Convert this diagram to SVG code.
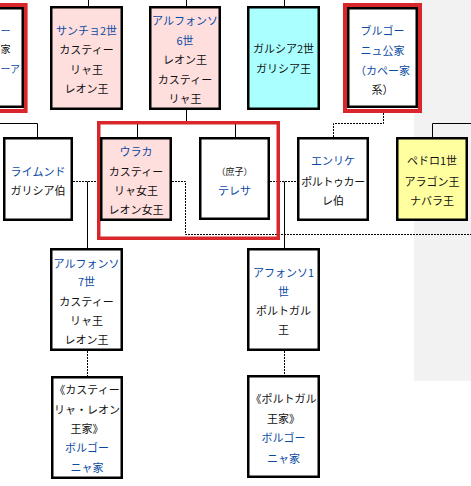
<svg xmlns="http://www.w3.org/2000/svg" width="471" height="486" viewBox="0 0 471 486">
<style>
.bx{stroke:#000;stroke-width:2.5}
.w{fill:#fff}
.pk{fill:#ffdede}
.cy{fill:#aaffff}
.yl{fill:#ffffa0}
.red{fill:none;stroke:#d8262b}
.t{font-family:"Noto Sans CJK JP","Noto Sans",sans-serif;font-size:11px;text-anchor:middle;dominant-baseline:central;fill:#111}
.l{fill:#0b4aa2}
.s{font-size:9px}
.st{text-anchor:start;font-size:10px}
.sl{stroke:#000;stroke-width:1;fill:none}
.dt{stroke:#000;stroke-width:1;fill:none;stroke-dasharray:2 1}
</style>
<rect width="471" height="486" fill="#fff"/>
<rect x="414" y="0" width="57" height="381" fill="#f2f2f2"/>
<g id="connectors">
<path class="sl" d="M88.5 0V7M186.5 0V7M284.5 0V7M186.5 110V123.5M137.5 123.5H235.5M137.5 123.5V137M235.5 123.5V137M0 123.5H37.5V137M87.5 181.5V248M284.5 181.5V248M432.5 137V123.5H471"/>
<path class="dt" d="M73 181.5H100M172 181.5H185.5V234.5H471M270 181.5H297M383.5 113V123.5H333.5V137M87.5 351V376M284.5 351V375"/>
</g>
<g id="nodeA">
<rect x="-60" y="5" width="85.6" height="106" class="red" stroke-width="4"/>
<rect x="-60" y="8.25" width="82.75" height="98.5" class="bx w"/>
<text class="t l st" x="0.5" y="30">ー</text>
<text class="t st" x="0.5" y="48">家</text>
<text class="t l st" x="0.5" y="68">ーア</text>
</g>
<g id="sancho2">
<rect x="51.25" y="7.25" width="70.5" height="101.5" class="bx pk"/>
<text class="t l" x="86.5" y="30">サンチョ2世</text>
<text class="t" x="86.5" y="49">カスティー</text>
<text class="t" x="86.5" y="69">リャ王</text>
<text class="t" x="86.5" y="88">レオン王</text>
</g>
<g id="alfonso6">
<rect x="150.25" y="7.25" width="69.5" height="101.5" class="bx pk"/>
<text class="t l" x="185" y="20">アルフォンソ</text>
<text class="t l" x="185" y="40">6世</text>
<text class="t" x="185" y="59">レオン王</text>
<text class="t" x="185" y="79">カスティー</text>
<text class="t" x="185" y="98">リャ王</text>
</g>
<g id="garcia2">
<rect x="248.25" y="7.25" width="70.5" height="101.5" class="bx cy"/>
<text class="t" x="283.5" y="48">ガルシア2世</text>
<text class="t" x="283.5" y="68">ガリシア王</text>
</g>
<g id="burgundy">
<rect x="345" y="5" width="75" height="106" class="red" stroke-width="4"/>
<rect x="348.25" y="8.25" width="68.5" height="98.5" class="bx w"/>
<text class="t l" x="382.5" y="30">ブルゴー</text>
<text class="t l" x="382.5" y="50">ニュ公家</text>
<text class="t l" x="382.5" y="70">（カペー家</text>
<text class="t" x="382.5" y="89">系）</text>
</g>
<g id="raimundo">
<rect x="4.25" y="138.25" width="67.5" height="81.5" class="bx w"/>
<text class="t l" x="38" y="171">ライムンド</text>
<text class="t" x="38" y="190">ガリシア伯</text>
</g>
<g id="highlight">
<rect x="98.75" y="122.75" width="179.5" height="115.5" class="red" stroke-width="3.5"/>
</g>
<g id="urraca">
<rect x="101.25" y="138.25" width="69.5" height="81.5" class="bx pk"/>
<text class="t l" x="136" y="151">ウラカ</text>
<text class="t" x="136" y="171">カスティー</text>
<text class="t" x="136" y="190">リャ女王</text>
<text class="t" x="136" y="209">レオン女王</text>
</g>
<g id="teresa">
<rect x="200.25" y="138.25" width="68.5" height="80.5" class="bx w"/>
<text class="t s" x="234.5" y="171">（庶子）</text>
<text class="t l" x="234.5" y="190">テレサ</text>
</g>
<g id="enrique">
<rect x="298.25" y="138.25" width="69.5" height="81.5" class="bx w"/>
<text class="t l" x="333" y="160">エンリケ</text>
<text class="t" x="333" y="181" letter-spacing="-0.4">ポルトゥカー</text>
<text class="t" x="333" y="200">レ伯</text>
</g>
<g id="pedro1">
<rect x="397.25" y="138.25" width="69.5" height="81.5" class="bx yl"/>
<text class="t" x="432" y="160">ペドロ1世</text>
<text class="t" x="432" y="181">アラゴン王</text>
<text class="t" x="432" y="200">ナバラ王</text>
</g>
<g id="alfonso7">
<rect x="51.25" y="249.25" width="70.5" height="100.5" class="bx w"/>
<text class="t l" x="86.5" y="263">アルフォンソ</text>
<text class="t l" x="86.5" y="281">7世</text>
<text class="t" x="86.5" y="301">カスティー</text>
<text class="t" x="86.5" y="320">リャ王</text>
<text class="t" x="86.5" y="339">レオン王</text>
</g>
<g id="afonso1">
<rect x="248.25" y="249.25" width="70.5" height="100.5" class="bx w"/>
<text class="t l" x="283.5" y="272">アフォンソ1</text>
<text class="t l" x="283.5" y="291">世</text>
<text class="t" x="283.5" y="310">ポルトガル</text>
<text class="t" x="283.5" y="329">王</text>
</g>
<g id="castileHouse">
<rect x="52.25" y="377.25" width="69.5" height="100.5" class="bx w"/>
<text class="t" x="87" y="389">《カスティー</text>
<text class="t" x="87" y="409">リャ・レオン</text>
<text class="t" x="87" y="428">王家》</text>
<text class="t l" x="87" y="447">ボルゴー</text>
<text class="t l" x="87" y="467">ニャ家</text>
</g>
<g id="portugalHouse">
<rect x="248.25" y="376.25" width="70.5" height="100.5" class="bx w"/>
<text class="t" x="283.5" y="398">《ポルトガル</text>
<text class="t" x="283.5" y="418">王家》</text>
<text class="t l" x="283.5" y="437">ボルゴー</text>
<text class="t l" x="283.5" y="458">ニャ家</text>
</g>
</svg>
